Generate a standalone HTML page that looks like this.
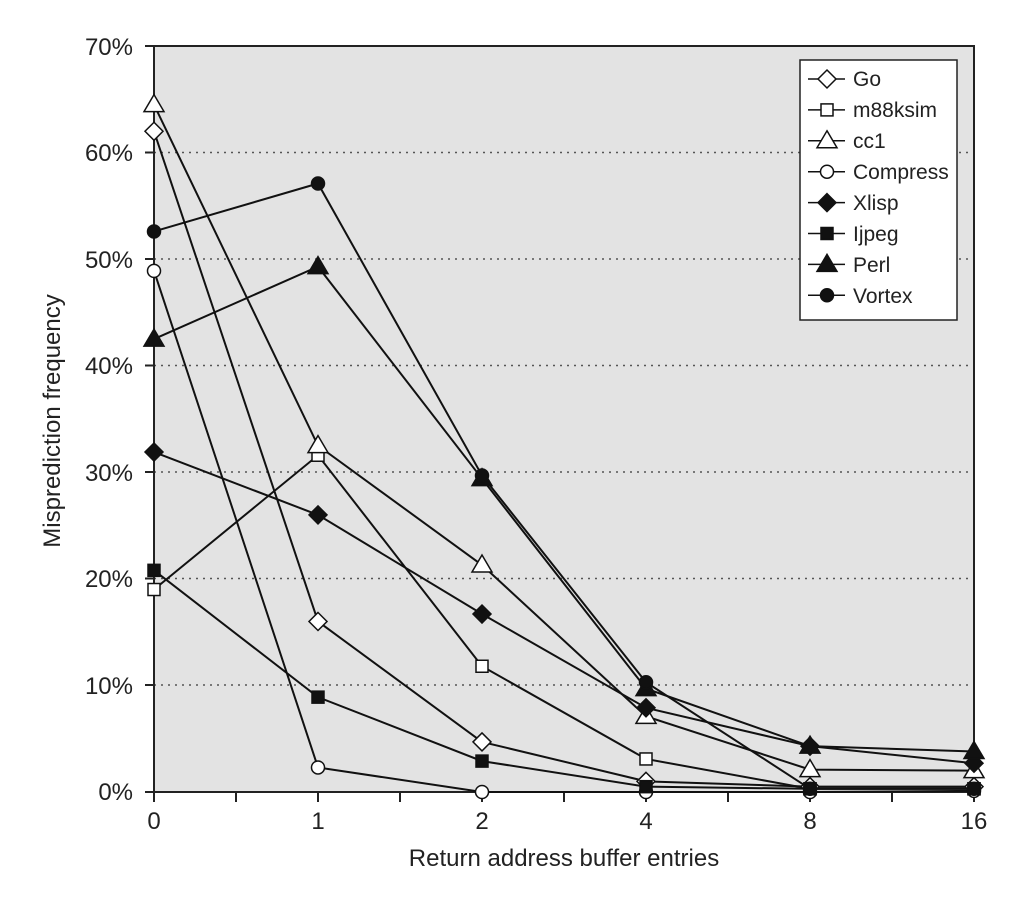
<!DOCTYPE html>
<html><head><meta charset="utf-8"><style>body{margin:0;background:#fff}svg{display:block;font-family:"Liberation Sans",sans-serif}</style></head>
<body>
<svg id="s" width="1018" height="902" viewBox="0 0 1018 902">
<rect x="154" y="46" width="820" height="746" fill="#e3e3e3"/>
<g stroke="#555" stroke-width="1.5" stroke-dasharray="2,5">
<line x1="154" x2="974" y1="152.5" y2="152.5"/><line x1="154" x2="974" y1="259" y2="259"/><line x1="154" x2="974" y1="365.5" y2="365.5"/><line x1="154" x2="974" y1="472" y2="472"/><line x1="154" x2="974" y1="578.5" y2="578.5"/><line x1="154" x2="974" y1="685" y2="685"/>
</g>
<g stroke="#222" stroke-width="2" fill="none">
<path d="M154 46H974V792"/>
<path d="M154 46V792H974"/>
<path d="M145 46H154M145 152.5H154M145 259H154M145 365.5H154M145 472H154M145 578.5H154M145 685H154M145 792H154"/>
<path d="M154 792v10M236 792v10M318 792v10M400 792v10M482 792v10M564 792v10M646 792v10M728 792v10M810 792v10M892 792v10M974 792v10"/>
</g>
<g font-size="24" fill="#222" text-anchor="end">
<text x="133" y="55">70%</text><text x="133" y="161">60%</text><text x="133" y="268">50%</text><text x="133" y="374">40%</text><text x="133" y="481">30%</text><text x="133" y="587">20%</text><text x="133" y="694">10%</text><text x="133" y="800">0%</text>
</g>
<g font-size="24" fill="#222" text-anchor="middle">
<text x="154" y="829">0</text><text x="318" y="829">1</text><text x="482" y="829">2</text><text x="646" y="829">4</text><text x="810" y="829">8</text><text x="974" y="829">16</text>
<text x="564" y="866">Return address buffer entries</text>
<text transform="translate(60,421) rotate(-90)">Misprediction frequency</text>
</g>
<g id="lines"></g>
<rect x="800" y="60" width="157" height="260" fill="#fff" stroke="#222" stroke-width="1.5"/>
<g font-size="21" fill="#222">
<text x="853" y="86">Go</text><text x="853" y="117">m88ksim</text><text x="853" y="148">cc1</text><text x="853" y="179">Compress</text><text x="853" y="210">Xlisp</text><text x="853" y="241">Ijpeg</text><text x="853" y="272">Perl</text><text x="853" y="303">Vortex</text>
</g>
<g id="leg"></g>
</svg>
<script>
var X=[154,318,482,646,810,974];
function Y(p){return 792-p*10.657;}
var S=[
["d",0,[62,16,4.7,1,0.5,0.5]],
["s",0,[19,31.6,11.8,3.1,0.3,0.3]],
["t",0,[64.5,32.5,21.3,7.1,2.1,2.0]],
["c",0,[48.9,2.3,0,0,0,0.1]],
["d",1,[31.9,26,16.7,7.9,4.3,2.7]],
["s",1,[20.8,8.9,2.9,0.5,0.3,0.3]],
["t",1,[42.5,49.3,29.4,9.7,4.3,3.8]],
["c",1,[52.6,57.1,29.7,10.3,0.3,0.3]]];
var NS="http://www.w3.org/2000/svg";
function el(n,a,p){var e=document.createElementNS(NS,n);for(var k in a)e.setAttribute(k,a[k]);p.appendChild(e);return e;}
function mk(t,f,x,y,g){var a={fill:f?"#111":"#fff",stroke:"#111","stroke-width":1.5};
 if(t=="d"){a.points=[x,y-9,x+9,y,x,y+9,x-9,y].join(" ");el("polygon",a,g);}
 else if(t=="s"){a.x=x-6;a.y=y-6;a.width=12;a.height=12;el("rect",a,g);}
 else if(t=="t"){a.points=[x,y-10,x+10,y+7,x-10,y+7].join(" ");el("polygon",a,g);}
 else {a.cx=x;a.cy=y;a.r=6.5;el("circle",a,g);}}
var g=document.getElementById("lines"),lg=document.getElementById("leg");
S.forEach(function(s){var d="";for(var i=0;i<6;i++)d+=(i?"L":"M")+X[i]+" "+Y(s[2][i]);el("path",{d:d,fill:"none",stroke:"#111","stroke-width":2},g);});
S.forEach(function(s){for(var i=0;i<6;i++)mk(s[0],s[1],X[i],Y(s[2][i]),g);});
S.forEach(function(s,i){var y=79+i*30.9;el("line",{x1:808,x2:845,y1:y,y2:y,stroke:"#111","stroke-width":1.5},lg);mk(s[0],s[1],827,y,lg);});
</script>
</body></html>
